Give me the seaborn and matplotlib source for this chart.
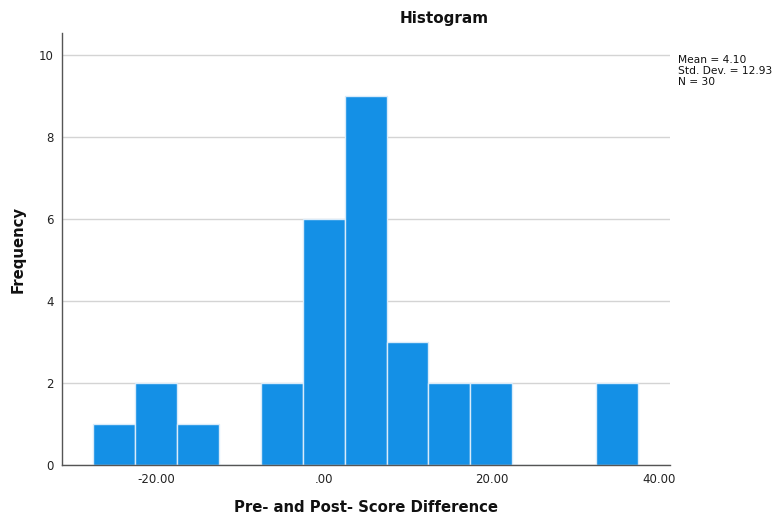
import numpy as np
import pandas as pd
import seaborn as sns
import matplotlib.pyplot as plt

# bin centres (width 5) and frequencies
bin_centers = [-25, -20, -15, -10, -5, 0, 5, 10, 15, 20, 25, 30, 35]
counts = [1, 2, 1, 0, 2, 6, 9, 3, 2, 2, 0, 0, 2]
bin_edges = [-27.5 + 5 * i for i in range(14)]
x_ticks = [-20, 0, 20, 40]
x_tick_labels = ['-20.00', '.00', '20.00', '40.00']
y_ticks = [0, 2, 4, 6, 8, 10]
stats_text = 'Mean = 4.10\nStd. Dev. = 12.93\nN = 30'

df = pd.DataFrame({'diff': bin_centers, 'freq': counts})

sns.set_style('white')
plt.rcParams['font.family'] = ['DejaVu Sans']

fig = plt.figure(figsize=(7.76, 5.17), dpi=100)
ax = fig.add_axes([62 / 776, 52 / 517, 608 / 776, 432 / 517])

sns.histplot(data=df, x='diff', weights='freq', bins=bin_edges, ax=ax,
             color='#1490e6', alpha=1, edgecolor='#d8ebfa', linewidth=1)

ax.set_xlim(-31.2, 41.3)
ax.set_ylim(0, 10.54)
ax.set_xticks(x_ticks)
ax.set_xticklabels(x_tick_labels)
ax.set_yticks(y_ticks)
ax.tick_params(axis='both', length=0, labelsize=8.5, colors='#222222', pad=6)

ax.yaxis.grid(True, color='#d4d4d4', linewidth=1)
ax.set_axisbelow(True)
for side in ['top', 'right']:
    ax.spines[side].set_visible(False)
for side in ['left', 'bottom']:
    ax.spines[side].set_color('#555555')
    ax.spines[side].set_linewidth(1)

ax.set_xlabel('Pre- and Post- Score Difference', fontsize=10.7, fontweight='bold', color='#111111')
ax.set_ylabel('Frequency', fontsize=10.7, fontweight='bold', color='#111111')
# place axis labels where they sit in the reference (pixel coords -> axes coords)
ax.xaxis.set_label_coords((366 - 62) / 608, -(508 - 465) / 432)
ax.yaxis.set_label_coords(-(62 - 18) / 608, 0.5)
ax.xaxis.label.set_va('center')
ax.yaxis.label.set_va('center')

fig.text(444 / 776, 1 - 19 / 517, 'Histogram', ha='center', va='center',
         fontsize=11, fontweight='bold', color='#111111')
fig.text(678 / 776, 1 - 55 / 517, stats_text, ha='left', va='top',
         fontsize=7.7, linespacing=1.15, color='#111111')

fig.savefig('out.png', dpi=100)
